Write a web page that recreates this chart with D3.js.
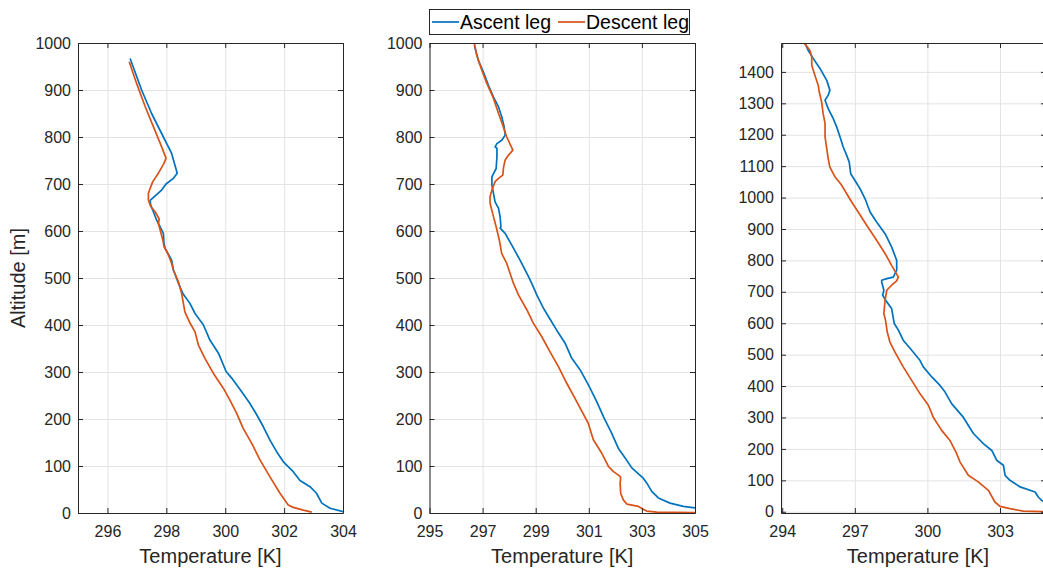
<!DOCTYPE html>
<meta charset="utf-8">
<script src="https://cdn.jsdelivr.net/npm/d3@7"></script>
<style>
  body { margin: 0; background: #fff; }
  text { font-family: "Liberation Sans", Arial, Helvetica, sans-serif; }
</style>
<div id="chart"></div>
<script>
// ---- data: [temperature K, altitude m] ----
const ascent1 = [[296.77,967],[297.16,900],[297.5,850],[297.9,800],[298.18,765],[298.37,723],[298.24,712],[297.99,700],[297.84,687],[297.45,665],[297.47,655],[297.56,641],[297.67,623],[297.79,609],[297.9,595],[297.92,574],[297.96,563],[298.12,545],[298.18,538],[298.24,517],[298.41,489],[298.56,467],[298.8,446],[298.97,425],[299.26,400],[299.48,368],[299.77,340],[300.03,301],[300.22,287],[300.56,258],[300.84,233],[301.07,209],[301.29,184],[301.52,155],[301.75,130],[302.0,107],[302.31,88],[302.54,69],[302.88,56],[303.1,42],[303.28,21],[303.56,10],[304.0,3]];
const descent1 = [[296.74,960],[296.99,914],[297.28,865],[297.56,822],[297.79,787],[297.99,755],[297.92,744],[297.73,723],[297.54,705],[297.47,694],[297.39,680],[297.39,666],[297.47,652],[297.62,641],[297.76,625],[297.73,616],[297.79,602],[297.88,581],[297.92,567],[298.07,549],[298.18,531],[298.24,517],[298.41,492],[298.52,467],[298.63,428],[298.78,407],[298.97,386],[299.09,357],[299.31,329],[299.6,297],[299.94,265],[300.16,240],[300.39,212],[300.61,180],[300.9,148],[301.18,113],[301.52,77],[301.86,42],[302.14,17],[302.31,12],[302.65,6],[302.94,2]];

const ascent2 = [[296.69,995],[296.84,963],[297.03,938],[297.22,910],[297.41,885],[297.6,864],[297.72,843],[297.81,822],[297.85,804],[297.72,793],[297.54,786],[297.47,779],[297.54,776],[297.54,758],[297.51,733],[297.41,722],[297.35,715],[297.35,698],[297.41,680],[297.47,662],[297.6,648],[297.66,630],[297.69,609],[297.66,606],[297.85,595],[298.1,570],[298.41,538],[298.73,503],[298.88,485],[299.04,464],[299.29,436],[299.48,418],[299.79,389],[300.11,361],[300.36,329],[300.67,305],[300.98,273],[301.3,237],[301.55,205],[301.86,170],[302.11,138],[302.37,117],[302.62,96],[303.05,74],[303.18,64],[303.37,46],[303.62,32],[304.06,21],[304.56,14],[305.0,11]];
const descent2 = [[296.69,999],[296.78,974],[296.97,942],[297.16,914],[297.41,882],[297.6,850],[297.76,825],[297.91,800],[298.14,772],[297.97,761],[297.85,751],[297.79,736],[297.76,719],[297.6,712],[297.47,705],[297.35,687],[297.28,673],[297.28,659],[297.38,637],[297.51,609],[297.63,581],[297.72,552],[297.91,531],[298.02,512],[298.16,489],[298.35,464],[298.67,432],[298.91,404],[299.23,375],[299.54,343],[299.85,312],[300.17,276],[300.48,244],[300.74,216],[300.98,191],[301.17,156],[301.49,127],[301.74,99],[301.93,88],[302.18,78],[302.2,74],[302.18,64],[302.2,42],[302.3,28],[302.43,19],[302.87,14],[303.05,8],[303.18,4],[303.56,2],[305.0,1]];

const ascent3 = [[294.94,1492],[295.07,1469],[295.28,1443],[295.56,1411],[295.84,1373],[295.97,1342],[295.9,1326],[295.77,1310],[295.9,1283],[296.11,1251],[296.25,1225],[296.39,1193],[296.52,1161],[296.66,1135],[296.77,1113],[296.83,1076],[297.0,1055],[297.21,1029],[297.42,997],[297.63,954],[297.9,922],[298.25,885],[298.52,843],[298.73,800],[298.73,769],[298.59,747],[298.32,742],[298.11,737],[298.11,731],[298.2,705],[298.15,689],[298.32,668],[298.52,647],[298.63,599],[298.8,578],[299.0,546],[299.35,514],[299.69,482],[299.83,461],[300.18,429],[300.52,402],[300.73,381],[301.0,344],[301.48,301],[301.9,249],[302.31,217],[302.66,195],[302.86,164],[303.14,148],[303.21,116],[303.41,100],[303.83,79],[304.45,63],[304.58,47],[304.72,36],[304.9,30]];
const descent3 = [[294.9,1492],[295.01,1482],[295.14,1469],[295.22,1448],[295.22,1421],[295.35,1389],[295.49,1357],[295.53,1336],[295.63,1304],[295.69,1267],[295.77,1236],[295.77,1193],[295.84,1156],[295.9,1124],[295.97,1097],[296.18,1066],[296.46,1039],[296.66,1013],[296.87,986],[297.14,954],[297.49,912],[297.9,864],[298.25,822],[298.52,784],[298.8,747],[298.73,735],[298.52,721],[298.32,705],[298.25,673],[298.2,631],[298.27,609],[298.34,572],[298.45,540],[298.66,508],[299.0,461],[299.35,418],[299.69,376],[300.04,339],[300.24,301],[300.59,259],[300.93,227],[301.18,190],[301.35,158],[301.69,116],[302.1,95],[302.52,68],[302.79,31],[303.0,17],[303.41,10],[303.96,2],[304.9,0]];

const xTicks1 = [296, 298, 300, 302, 304];
const xTicks2 = [295, 297, 299, 301, 303, 305];
const xTicks3 = [294, 297, 300, 303];
const yTicks1 = d3.range(0, 1001, 100);
const yTicks3 = d3.range(0, 1401, 100);

const seriesNames = ["Ascent leg", "Descent leg"];
const colors = ["#0072BD", "#D95319"];

const W = 1043, H = 571;
const svg = d3.select("#chart").append("svg")
    .attr("width", W).attr("height", H);

// panel layout
const panels = [
  {left: 78, right: 343, xDom: [295, 304], yDom: [0, 1000], xt: xTicks1, yt: yTicks1, data: [ascent1, descent1], ylabel: true},
  {left: 429.5, right: 695, xDom: [295, 305], yDom: [0, 1000], xt: xTicks2, yt: yTicks1, data: [ascent2, descent2]},
  {left: 781, right: 1046, xDom: [293.95, 304.9], yDom: [-4, 1492], xt: xTicks3, yt: yTicks3, data: [ascent3, descent3]}
];
const plotTop = 43, plotBottom = 513;
const axisColor = "#262626";

panels.forEach(function(p, i) {
  const x = d3.scaleLinear().domain(p.xDom).range([p.left, p.right]);
  const y = d3.scaleLinear().domain(p.yDom).range([plotBottom, plotTop]);
  const g = svg.append("g");
  const w = p.right - p.left, h = plotBottom - plotTop;

  g.append("rect").attr("x", p.left).attr("y", plotTop).attr("width", w).attr("height", h)
    .attr("fill", "#fff");

  // grid
  g.append("g").attr("transform", "translate(0," + plotBottom + ")")
    .call(d3.axisBottom(x).tickValues(p.xt).tickSize(-h).tickFormat(""))
    .call(a => a.select(".domain").remove())
    .call(a => a.selectAll("line").attr("stroke", "#e3e3e3"));
  g.append("g").attr("transform", "translate(" + p.left + ",0)")
    .call(d3.axisLeft(y).tickValues(p.yt).tickSize(-w).tickFormat(""))
    .call(a => a.select(".domain").remove())
    .call(a => a.selectAll("line").attr("stroke", "#e3e3e3"));

  // lines
  const clipId = "clip" + i;
  svg.append("clipPath").attr("id", clipId).append("rect")
    .attr("x", p.left).attr("y", plotTop).attr("width", w).attr("height", h);
  const line = d3.line().x(d => x(d[0])).y(d => y(d[1]));
  p.data.forEach(function(s, k) {
    g.append("path").datum(s)
      .attr("clip-path", "url(#" + clipId + ")")
      .attr("fill", "none").attr("stroke", colors[k])
      .attr("stroke-width", 1.7).attr("stroke-linejoin", "round")
      .attr("d", line);
  });

  // axes with inward ticks on all sides
  const styleAxis = a => {
    a.select(".domain").attr("stroke", axisColor);
    a.selectAll(".tick line").attr("stroke", axisColor);
    a.selectAll("text").attr("fill", axisColor).style("font-size", "16px");
  };
  g.append("g").attr("transform", "translate(0," + plotBottom + ")")
    .call(d3.axisBottom(x).tickValues(p.xt).tickSizeInner(-5).tickSizeOuter(0).tickPadding(13).tickFormat(d3.format("d")))
    .call(styleAxis);
  g.append("g").attr("transform", "translate(0," + plotTop + ")")
    .call(d3.axisTop(x).tickValues(p.xt).tickSizeInner(-5).tickSizeOuter(0).tickFormat(""))
    .call(styleAxis);
  g.append("g").attr("transform", "translate(" + p.left + ",0)")
    .call(d3.axisLeft(y).tickValues(p.yt).tickSizeInner(-5).tickSizeOuter(0).tickPadding(7).tickFormat(d3.format("d")))
    .call(styleAxis);
  g.append("g").attr("transform", "translate(" + p.right + ",0)")
    .call(d3.axisRight(y).tickValues(p.yt).tickSizeInner(-5).tickSizeOuter(0).tickFormat(""))
    .call(styleAxis);

  // x label
  g.append("text").attr("x", (p.left + Math.min(p.right, W)) / 2 + (i == 2 ? 6 : 0)).attr("y", 563)
    .attr("text-anchor", "middle").attr("fill", axisColor)
    .style("font-size", "20px").text("Temperature [K]");

  if (p.ylabel) {
    g.append("text").attr("transform", "translate(25," + (plotTop + plotBottom) / 2 + ") rotate(-90)")
      .attr("text-anchor", "middle").attr("fill", axisColor)
      .style("font-size", "20px").text("Altitude [m]");
  }
});

// legend
const leg = svg.append("g");
leg.append("rect").attr("x", 429.5).attr("y", 9.5).attr("width", 260).attr("height", 25)
  .attr("fill", "#fff").attr("stroke", axisColor);
const legX = [432, 558];
seriesNames.forEach(function(name, k) {
  leg.append("line").attr("x1", legX[k]).attr("x2", legX[k] + 27)
    .attr("y1", 22).attr("y2", 22).attr("stroke", colors[k]).attr("stroke-width", 1.7);
  leg.append("text").attr("x", legX[k] + 28).attr("y", 29)
    .attr("fill", "#000").style("font-size", "19.5px").text(name);
});
</script>
